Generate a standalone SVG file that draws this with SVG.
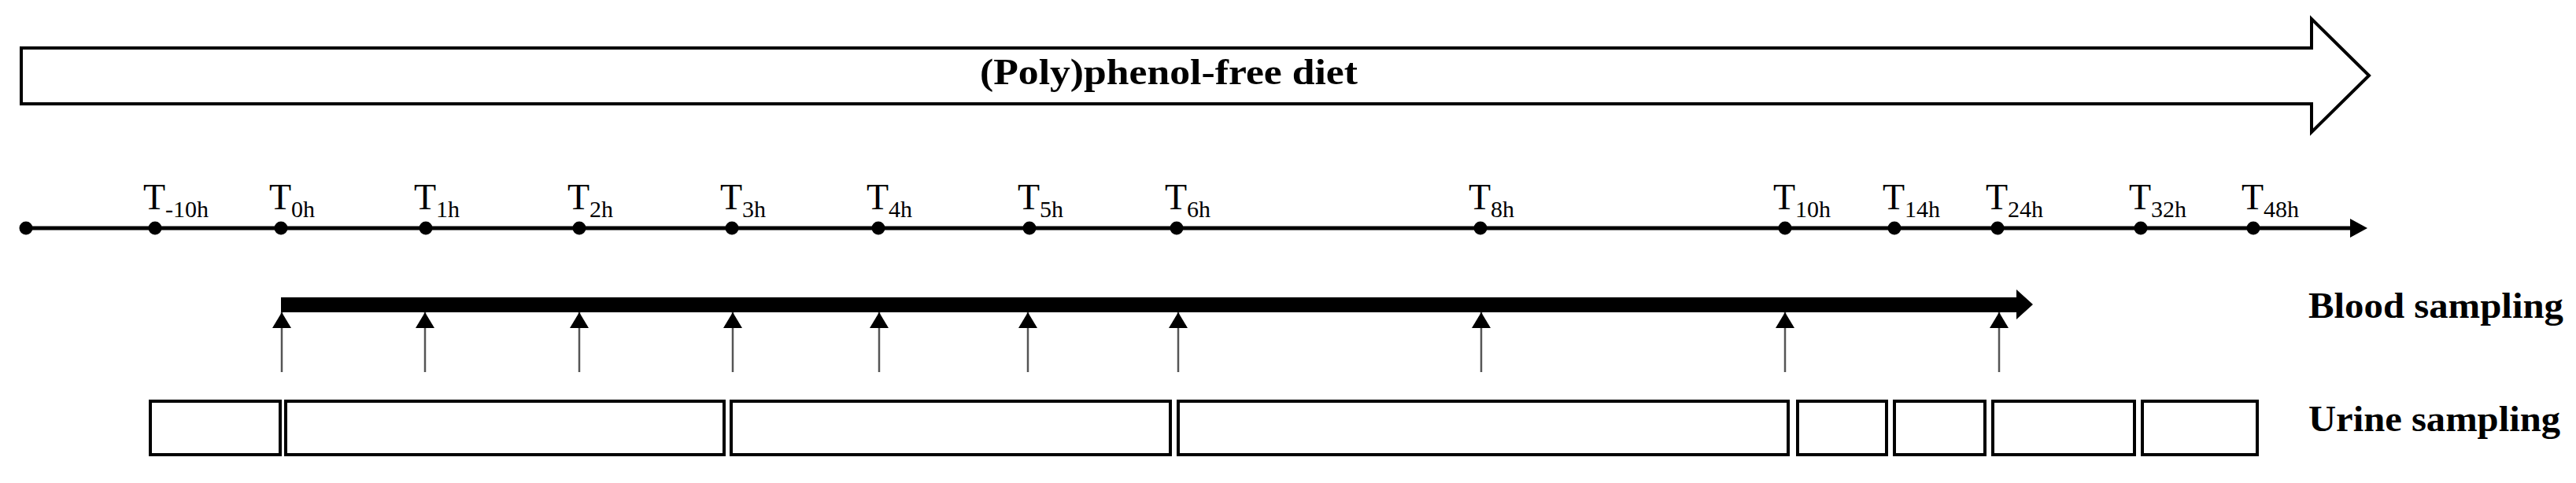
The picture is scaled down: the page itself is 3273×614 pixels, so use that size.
<svg xmlns="http://www.w3.org/2000/svg" width="3273" height="614" viewBox="0 0 3273 614">
<style>
.t{font-family:"Liberation Serif","Times New Roman",serif;font-size:46px;fill:#000}
.sub{font-size:30px}
.lbl{font-family:"Liberation Serif","Times New Roman",serif;font-weight:bold;font-size:46px;fill:#000}
.box{fill:#fff;stroke:#000;stroke-width:4}
.dot{fill:#000}
.up{stroke:#555;stroke-width:2.5;fill:none;marker-end:url(#ah)}
</style>
<defs>
<marker id="ah" markerUnits="userSpaceOnUse" viewBox="0 0 20 24" markerWidth="20" markerHeight="24" refX="20" refY="12" orient="auto">
<path d="M0,0 L20,12 L0,24 z" fill="#000"/>
</marker>
</defs>
<rect width="3273" height="614" fill="#fff"/>

<g id="diet">
<path d="M27,61 L2937,61 L2937,24 L3010,96 L2937,168 L2937,132 L27,132 Z" fill="#fff" stroke="#000" stroke-width="4" stroke-linejoin="miter"/>
<text class="lbl" x="1245" y="107" font-size="40" textLength="480" lengthAdjust="spacingAndGlyphs">(Poly)phenol-free diet</text>
</g>

<g id="timeline">
<line x1="33" y1="290" x2="2990" y2="290" stroke="#000" stroke-width="5"/>
<polygon points="2986,278 3008,290 2986,302" fill="#000"/>
<g class="dot">
<circle cx="33" cy="290" r="8.5"/>
<circle cx="197" cy="290" r="8.5"/>
<circle cx="357" cy="290" r="8.5"/>
<circle cx="541" cy="290" r="8.5"/>
<circle cx="736" cy="290" r="8.5"/>
<circle cx="930" cy="290" r="8.5"/>
<circle cx="1116" cy="290" r="8.5"/>
<circle cx="1308" cy="290" r="8.5"/>
<circle cx="1495" cy="290" r="8.5"/>
<circle cx="1881" cy="290" r="8.5"/>
<circle cx="2268" cy="290" r="8.5"/>
<circle cx="2407" cy="290" r="8.5"/>
<circle cx="2538" cy="290" r="8.5"/>
<circle cx="2720" cy="290" r="8.5"/>
<circle cx="2863" cy="290" r="8.5"/>
</g>
</g>

<g id="labels">
<text class="t" x="182" y="266">T<tspan class="sub" dy="10">-10h</tspan></text>
<text class="t" x="342" y="266">T<tspan class="sub" dy="10">0h</tspan></text>
<text class="t" x="526" y="266">T<tspan class="sub" dy="10">1h</tspan></text>
<text class="t" x="721" y="266">T<tspan class="sub" dy="10">2h</tspan></text>
<text class="t" x="915" y="266">T<tspan class="sub" dy="10">3h</tspan></text>
<text class="t" x="1101" y="266">T<tspan class="sub" dy="10">4h</tspan></text>
<text class="t" x="1293" y="266">T<tspan class="sub" dy="10">5h</tspan></text>
<text class="t" x="1480" y="266">T<tspan class="sub" dy="10">6h</tspan></text>
<text class="t" x="1866" y="266">T<tspan class="sub" dy="10">8h</tspan></text>
<text class="t" x="2253" y="266">T<tspan class="sub" dy="10">10h</tspan></text>
<text class="t" x="2392" y="266">T<tspan class="sub" dy="10">14h</tspan></text>
<text class="t" x="2523" y="266">T<tspan class="sub" dy="10">24h</tspan></text>
<text class="t" x="2705" y="266">T<tspan class="sub" dy="10">32h</tspan></text>
<text class="t" x="2848" y="266">T<tspan class="sub" dy="10">48h</tspan></text>
</g>

<g id="blood">
<path d="M357,378 L2562,378 L2562,368 L2583,387 L2562,406 L2562,397 L357,397 Z" fill="#000"/>
<text class="lbl" x="2933" y="404" textLength="324" lengthAdjust="spacingAndGlyphs">Blood sampling</text>
</g>

<g id="connectors">
<line class="up" x1="358" y1="473" x2="358" y2="397"/>
<line class="up" x1="540" y1="473" x2="540" y2="397"/>
<line class="up" x1="736" y1="473" x2="736" y2="397"/>
<line class="up" x1="931" y1="473" x2="931" y2="397"/>
<line class="up" x1="1117" y1="473" x2="1117" y2="397"/>
<line class="up" x1="1306" y1="473" x2="1306" y2="397"/>
<line class="up" x1="1497" y1="473" x2="1497" y2="397"/>
<line class="up" x1="1882" y1="473" x2="1882" y2="397"/>
<line class="up" x1="2268" y1="473" x2="2268" y2="397"/>
<line class="up" x1="2540" y1="473" x2="2540" y2="397"/>
</g>

<g id="urine">
<rect class="box" x="191" y="510" width="165" height="68"/>
<rect class="box" x="363" y="510" width="557" height="68"/>
<rect class="box" x="929" y="510" width="558" height="68"/>
<rect class="box" x="1497" y="510" width="775" height="68"/>
<rect class="box" x="2284" y="510" width="113" height="68"/>
<rect class="box" x="2407" y="510" width="115" height="68"/>
<rect class="box" x="2532" y="510" width="180" height="68"/>
<rect class="box" x="2722" y="510" width="146" height="68"/>
<text class="lbl" x="2933" y="548" textLength="320" lengthAdjust="spacingAndGlyphs">Urine sampling</text>
</g>
</svg>
